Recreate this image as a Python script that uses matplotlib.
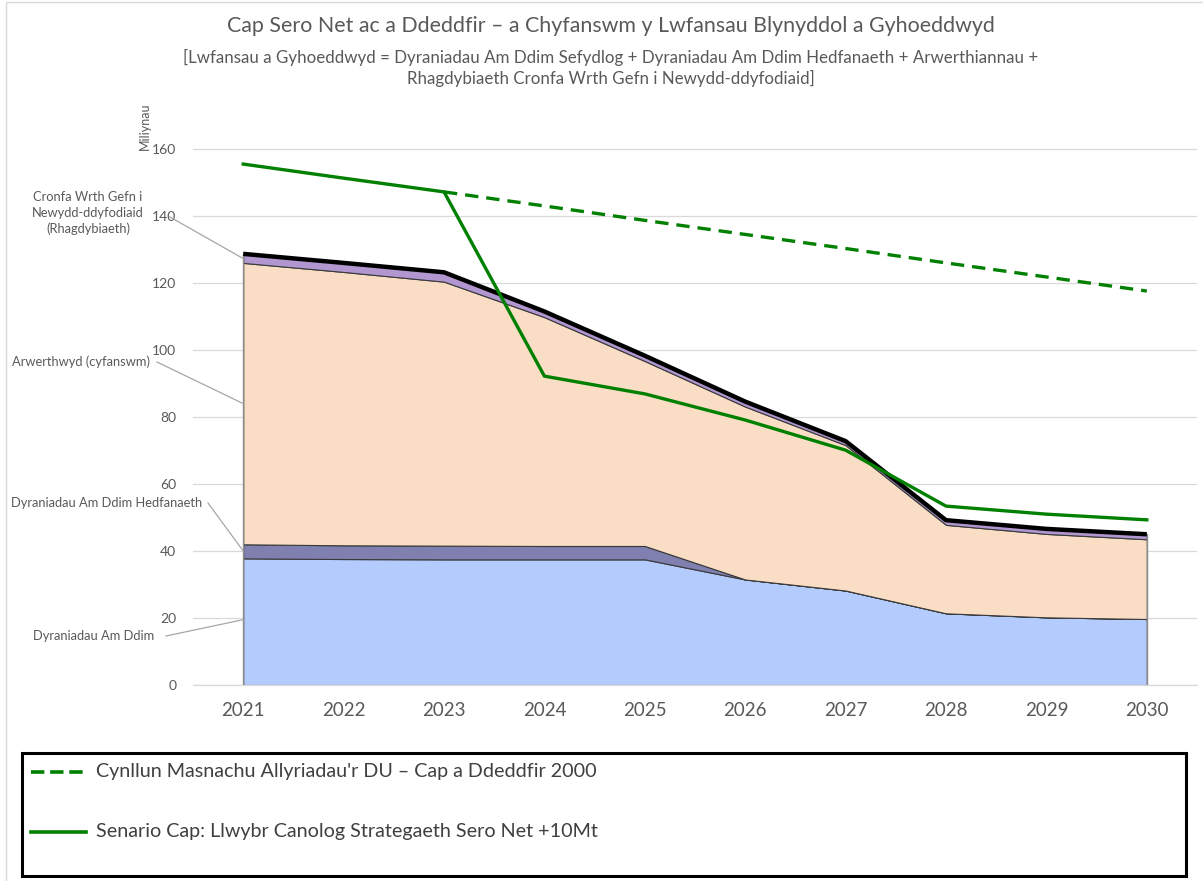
import matplotlib
matplotlib.use("Agg")
import matplotlib.pyplot as plt
from matplotlib.lines import Line2D
from matplotlib.patches import Rectangle

plt.rcParams['font.family'] = ['Lato', 'DejaVu Sans']

years = [2021, 2022, 2023, 2024, 2025, 2026, 2027, 2028, 2029, 2030]
free_alloc = [37.8, 37.6, 37.5, 37.5, 37.5, 31.5, 28.2, 21.4, 20.2, 19.7]
aviation = [4.2, 4.1, 4.1, 4.0, 4.0, 0.0, 0.0, 0.0, 0.0, 0.0]
auctioned = [84.0, 81.6, 78.8, 68.3, 55.2, 51.6, 43.4, 26.4, 24.9, 23.8]
ner_reserve = [2.7, 2.7, 2.8, 1.7, 1.6, 1.5, 1.2, 1.4, 1.5, 1.5]

cap_years = [2023, 2024, 2025, 2026, 2027, 2028, 2029, 2030]
cap_enacted = [147.2, 143.0, 138.7, 134.5, 130.3, 126.0, 121.8, 117.6]
netzero_cap = [155.5, 151.3, 147.2, 92.2, 86.9, 79.1, 70.1, 53.4, 51.0, 49.3]

title = "Cap Sero Net ac a Ddeddfir – a Chyfanswm y Lwfansau Blynyddol a Gyhoeddwyd"
subtitle = ("[Lwfansau a Gyhoeddwyd = Dyraniadau Am Ddim Sefydlog + Dyraniadau Am Ddim Hedfanaeth + Arwerthiannau +\n"
            "Rhagdybiaeth Cronfa Wrth Gefn i Newydd-ddyfodiaid]")
legend_labels = ["Cynllun Masnachu Allyriadau'r DU – Cap a Ddeddfir 2000",
                 "Senario Cap: Llwybr Canolog Strategaeth Sero Net +10Mt"]
area_labels = ["Dyraniadau Am Ddim", "Dyraniadau Am Ddim Hedfanaeth",
               "Arwerthwyd (cyfanswm)", "Cronfa Wrth Gefn i\nNewydd-ddyfodiaid\n(Rhagdybiaeth)"]

W, H = 1203, 881
fig = plt.figure(figsize=(W / 100, H / 100), dpi=100)
ax = fig.add_axes([193 / W, (H - 685) / H, (1197 - 193) / W, (685 - 115.5) / H])

txt = "#595959"
grid = "#D9D9D9"

colors = ["#B3CBFD", "#7F7FB0", "#F9DEC5", "#B196D0"]
ax.stackplot(years, free_alloc, aviation, auctioned, ner_reserve, colors=colors,
             edgecolor="#3A3A3A", linewidth=0.8, zorder=2)
total = [a + b + c + d for a, b, c, d in zip(free_alloc, aviation, auctioned, ner_reserve)]
ax.vlines([years[0], years[-1]], 0, [total[0], total[-1]], color="#8C8C8C", lw=1.0, zorder=2.5)
ax.plot(years, total, color="black", lw=3.2, zorder=4, solid_capstyle="butt")

ax.plot(cap_years, cap_enacted, color="#008000", lw=2.4, ls=(0, (4.0, 2.4)), zorder=5)
ax.plot(years, netzero_cap, color="#008000", lw=2.4, zorder=5)

ax.set_xlim(2020.5, 2030.5)
ax.set_ylim(0, 170)
ax.set_yticks(range(0, 161, 20))
ax.set_xticks(years)
ax.grid(axis="y", color=grid, lw=0.9, zorder=0)
ax.set_axisbelow(True)
for s in ["top", "right", "left"]:
    ax.spines[s].set_visible(False)
ax.spines["bottom"].set_color(grid)
ax.spines["bottom"].set_linewidth(0.9)
ax.tick_params(axis="both", length=0, colors=txt)
ax.tick_params(axis="x", labelsize=13.5, pad=12)
ax.tick_params(axis="y", labelsize=10, pad=12)

fig.text(145 / W, (H - 126) / H, "Miliynau", rotation=90, ha="center", va="center",
         fontsize=9, color=txt)

fig.text(610.5 / W, (H - 26) / H, title, ha="center", va="center", fontsize=15.4, color=txt)
fig.text(611 / W, (H - 68) / H, subtitle, ha="center", va="center", fontsize=12.2, color=txt,
         linespacing=1.35)

# annotations with leader lines
lc = "#A6A6A6"
ann = [
    (area_labels[3], (2021, 127.3), (88, 213), "center", (170, 217)),
    (area_labels[2], (2021, 84.0), (150, 362), "right", (157, 362)),
    (area_labels[1], (2021, 40.0), (202, 503), "right", (208, 503)),
    (area_labels[0], (2021, 19.5), (154, 636), "right", (166, 636)),
]
for label, xy, tpos, ha, start in ann:
    fig.text(tpos[0] / W, (H - tpos[1]) / H, label, ha=ha, va="center", fontsize=9.3,
             color=txt, linespacing=1.4)
    px, py = ax.transData.transform(xy)
    fig.add_artist(Line2D([start[0], px], [H - start[1], py], transform=None,
                          color=lc, lw=0.9))

# legend box
fig.add_artist(Rectangle((22 / W, (H - 876) / H), (1186 - 22) / W, (876 - 753) / H,
                         transform=fig.transFigure, fill=False, ec="black", lw=2.2))
handles = [Line2D([], [], color="#008000", lw=2.6, ls=(0, (3.2, 2.6))),
           Line2D([], [], color="#008000", lw=2.6)]
for i, (h, lab) in enumerate(zip(handles, legend_labels)):
    yy = H - (772 if i == 0 else 832)
    fig.add_artist(Line2D([31, 86], [yy, yy], transform=None, color="#008000", lw=h.get_linewidth(),
                          ls=h.get_linestyle()))
    fig.text(96 / W, yy / H, lab, ha="left", va="center", fontsize=14.2, color="#404040")

# chart area border
fig.add_artist(Rectangle((6 / W, -0.01), 1.02, (H - 2) / H + 0.01, transform=fig.transFigure,
                         fill=False, ec=grid, lw=1.0))

fig.savefig("out.png", dpi=100)
